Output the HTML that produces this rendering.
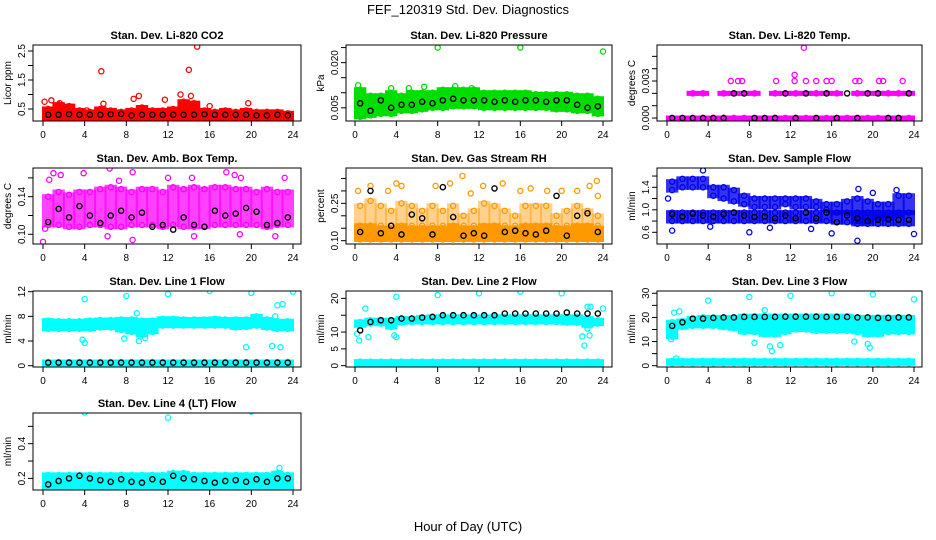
<!DOCTYPE html>
<html><head><meta charset="utf-8"><style>
body{margin:0;background:#fff;}
svg{display:block;font-family:"Liberation Sans",sans-serif;}
</style></head><body>
<svg id="c" width="936" height="540" xmlns="http://www.w3.org/2000/svg">
<text x="468" y="14" font-size="13" text-anchor="middle">FEF_120319  Std. Dev. Diagnostics</text>
<text x="468" y="531" font-size="13" text-anchor="middle">Hour of Day (UTC)</text>
</svg>
<script>
// ---- data ----
const hourTicks = [0,4,8,12,16,20,24];
const titles = ["Stan. Dev. Li-820 CO2","Stan. Dev. Li-820 Pressure","Stan. Dev. Li-820 Temp.","Stan. Dev. Amb. Box Temp.","Stan. Dev. Gas Stream RH","Stan. Dev. Sample Flow","Stan. Dev. Line 1 Flow","Stan. Dev. Line 2 Flow","Stan. Dev. Line 3 Flow","Stan. Dev. Line 4 (LT) Flow"];
const yTitles = ["Licor ppm","kPa","degrees C","degrees C","percent","ml/min","ml/min","ml/min","ml/min","ml/min"];
const colors = ["#ff0000","#00dd00","#ff00ff","#ff00ff","#ff9900","#0000ee","#00ffff","#00ffff","#00ffff","#00ffff"];
const yTicks = [[0.5,1,1.5,2,2.5],[0.005,0.010,0.015,0.020,0.025],[0,0.001,0.002,0.003,0.004,0.005],[0.10,0.12,0.14,0.16],[0.10,0.15,0.20,0.25,0.30,0.35],[0.6,0.8,1.0,1.2,1.4,1.6],[0,4,8,12],[0,5,10,15,20],[0,5,10,15,20,25,30],[0.2,0.3,0.4,0.5]];
const yTickLabels = [["0.5","","1.5","","2.5"],["0.005","","","0.020",""],["0.000","","","0.003","",""],["0.10","","0.14",""],["0.10","","","0.25","",""],["0.6","","1.0","","1.4",""],["0","4","8","12"],["0","5","10","","20"],["0","","10","","20","","30"],["0.2","","0.4",""]];
const yRanges = [[0.086,2.707],[0.00062,0.02586],[-0.00024,0.00592],[0.0897,0.1705],[0.0867,0.392],[0.392,1.743],[-0.21,12.11],[-0.39,22.2],[-0.54,30.95],[0.133,0.577]];

const co2Lo = Array(24).fill(0.15);
const co2Hi = [0.5,0.65,0.6,0.45,0.4,0.5,0.45,0.4,0.45,0.55,0.45,0.45,0.5,0.75,0.7,0.45,0.4,0.45,0.4,0.45,0.4,0.4,0.4,0.35];
const co2Black = [0.3,0.3,0.32,0.3,0.3,0.3,0.32,0.33,0.28,0.3,0.3,0.3,0.3,0.3,0.3,0.32,0.3,0.3,0.3,0.3,0.28,0.28,0.3,0.28];
const co2Out = [[0.15,0.75],[0.8,0.8],[1.6,0.7],[2.3,0.55],[5.6,1.8],[5.8,0.68],[8.7,0.85],[9.2,0.95],[11.7,0.82],[13.2,1.0],[14,1.85],[14.2,0.95],[14.8,2.65],[16,0.6],[19.7,0.7],[4.2,0.45]];

const prLo = [0.002,0.0025,0.003,0.003,0.004,0.004,0.0045,0.005,0.005,0.0055,0.0055,0.0055,0.005,0.005,0.005,0.005,0.005,0.005,0.005,0.0045,0.0045,0.004,0.004,0.003];
const prHi = [0.011,0.009,0.009,0.010,0.009,0.010,0.010,0.010,0.011,0.011,0.011,0.011,0.010,0.010,0.010,0.010,0.010,0.0095,0.0095,0.0095,0.0095,0.009,0.009,0.008];
const prBlack = [0.0065,0.004,0.0075,0.005,0.006,0.006,0.007,0.0065,0.0075,0.008,0.0075,0.0075,0.0075,0.007,0.0075,0.007,0.0075,0.0075,0.007,0.0075,0.0075,0.006,0.005,0.0055];
const prOut = [[8,0.025],[16,0.025],[24,0.0237],[0.3,0.0125],[3.5,0.0115],[9.7,0.0122],[5.2,0.0115],[6.7,0.012],[11.3,0.0115]];

const tpLo = Array(24).fill(0);
const tpHi = Array(24).fill(0);
const tpLo2 = [null,null,0.002,0.002,null,0.002,0.002,0.002,0.002,null,0.002,0.002,0.002,0.002,0.002,0.002,0.002,null,0.002,0.002,0.002,0.002,0.002,0.002];
const tpBlack = [0,0,0,0,0,0,0.002,0.002,0,0,0,0.002,0,0.002,0,0.002,0,0.002,0,0.002,0.002,0,0,0.002];
const tpOut = [[6.2,0.003],[6.9,0.003],[7.3,0.003],[10.6,0.003],[12.4,0.0035],[12.4,0.003],[13.3,0.0057],[13.5,0.003],[14.5,0.003],[15.5,0.003],[16,0.003],[18.3,0.003],[18.7,0.003],[20.6,0.003],[21,0.003],[22.9,0.003]];

const atLo = [0.11,0.11,0.108,0.108,0.11,0.11,0.108,0.108,0.11,0.11,0.11,0.108,0.11,0.108,0.108,0.108,0.11,0.11,0.11,0.11,0.11,0.108,0.11,0.11];
const atHi = [0.14,0.145,0.142,0.145,0.145,0.148,0.15,0.148,0.145,0.148,0.148,0.145,0.15,0.148,0.15,0.148,0.15,0.15,0.148,0.148,0.145,0.148,0.145,0.145];
const atBlack = [0.113,0.127,0.118,0.13,0.12,0.112,0.12,0.125,0.118,0.123,0.108,0.11,0.105,0.118,0.11,0.108,0.125,0.12,0.122,0.128,0.124,0.11,0.112,0.118];
const atOut = [[0,0.092],[0.2,0.106],[0.6,0.158],[1,0.165],[1.7,0.163],[3.9,0.165],[6.4,0.17],[7.3,0.157],[8.6,0.094],[8.6,0.166],[12,0.16],[14.3,0.16],[17.6,0.166],[18.4,0.163],[19,0.16],[23.2,0.16],[6.2,0.098],[22.3,0.098],[14.5,0.098],[18.9,0.1]];

const rhLo = Array(24).fill(0.105);
const rhHi = [0.16,0.16,0.15,0.15,0.16,0.15,0.15,0.15,0.15,0.16,0.15,0.15,0.16,0.16,0.15,0.15,0.16,0.16,0.16,0.15,0.15,0.16,0.16,0.15];
const rhLo2 = Array(24).fill(0.16);
const rhHi2 = [0.24,0.26,0.24,0.22,0.25,0.24,0.22,0.24,0.22,0.24,0.2,0.22,0.25,0.24,0.22,0.2,0.24,0.24,0.24,0.2,0.22,0.24,0.22,0.2];
const rhBlack = [0.135,0.3,0.13,0.16,0.125,0.205,0.19,0.125,0.315,0.195,0.12,0.13,0.12,0.31,0.135,0.14,0.13,0.125,0.14,0.28,0.12,0.2,0.21,0.135];
const rhOut = [[0.3,0.3],[1.5,0.32],[4,0.33],[4.5,0.32],[7.8,0.32],[9.2,0.33],[10.4,0.36],[11.2,0.29],[12.4,0.32],[14.3,0.33],[16,0.3],[17,0.31],[18.6,0.3],[20,0.3],[21.5,0.3],[22.7,0.32],[23.4,0.34],[23.5,0.28],[3.2,0.3]];

const sfLo = [0.8,0.8,0.8,0.8,0.8,0.8,0.8,0.8,0.8,0.8,0.8,0.8,0.8,0.8,0.8,0.8,0.78,0.78,0.75,0.75,0.75,0.75,0.75,0.75];
const sfHi = Array(24).fill(0.95);
const sfLo2 = [1.35,1.4,1.4,1.4,1.25,1.2,1.15,1.1,1.05,1.05,1.05,1.1,1.05,1.05,1.05,1.0,0.95,0.95,0.8,0.8,0.85,0.85,0.9,0.95];
const sfHi2 = [1.5,1.55,1.55,1.55,1.4,1.4,1.35,1.25,1.2,1.2,1.2,1.2,1.2,1.2,1.15,1.1,1.1,1.15,1.2,1.15,1.1,1.1,1.25,1.25];
const sfBlack = [0.92,0.88,0.93,0.9,0.88,0.92,0.95,0.9,0.87,0.88,0.85,0.9,0.85,0.95,0.85,0.95,0.78,0.9,0.85,0.8,0.82,0.83,0.82,0.82];
const sfOut = [[0.1,1.2],[0.5,0.63],[3.5,1.7],[4.2,0.7],[8,0.6],[10,0.68],[14,0.66],[16,0.58],[18.5,0.45],[18.6,1.37],[20,1.3],[24,0.57],[22.3,1.35]];

const l1Lo = [6,6,6,6,6,6.2,6.2,5.8,5.5,5,5.5,6.5,6.5,6.5,6.5,6.5,6.5,6.5,6.2,6.3,6.5,6.2,6,6];
const l1Hi = [7.3,7.2,7.2,7.2,7.3,7.4,7.4,7.5,7.5,7.3,7.3,7.6,7.6,7.5,7.5,7.5,7.6,7.5,7.5,7.5,8,7.5,7.2,7.2];
const l1Lo2 = Array(24).fill(0.3);
const l1Hi2 = Array(24).fill(0.6);
const l1Black = Array(24).fill(0.5);
const l1Out = [[4,10.8],[8,11.3],[12,11.6],[16,12.1],[20,11.8],[24,12],[3.8,4.2],[4,3.7],[7.8,4.4],[9.2,4],[9.8,4.5],[19.5,3],[22.8,3],[22.5,9.8],[23,10],[22.3,8],[9,8.5],[22,3.2]];

const l2Lo = [12,12.5,12.5,11.5,12.8,13,13,13,13,13,13,13,13,13,13,13,13,13,13,13,12.8,12.8,12,12.5];
const l2Hi = [13,13.5,13.5,13.5,14,14,14.3,14.5,14.5,14.5,14.5,14.5,14.5,14.5,14.5,14.5,14.5,14.5,14.5,14.5,14.5,14.5,14,13.5];
const l2Lo2 = Array(24).fill(0.3);
const l2Hi2 = Array(24).fill(1.2);
const l2Black = [10.5,13,13.5,13.5,14,14,14.3,14.5,15,15,15,15,15,15,15.5,15.5,15.5,15.5,15.5,15.5,15.8,15.5,15.5,15.5];
const l2Out = [[0.2,9.5],[0.4,7.5],[1,17],[1.3,8.5],[4,20.5],[4,8.5],[3.8,9],[8,21],[12,21.5],[16,22],[20,21.5],[22.5,17.5],[22.8,17.5],[24,17],[22,8.7],[22.2,6],[22.5,11],[22.7,9]];

const l3Lo = [12,16,16.5,16.5,16.5,16,15.5,14,14,13,13,14,15,15,14.5,14.5,14.5,14.5,14,13,13,14,14,14];
const l3Hi = [18,18.5,19.5,20,20,20,20,20.5,20.5,20.5,20.5,20.5,20.5,20.5,20.5,20.5,20.5,20.5,20,20,20,20,20,20];
const l3Lo2 = Array(24).fill(1);
const l3Hi2 = Array(24).fill(2);
const l3Black = [16.5,18,19.5,19.5,19.8,20,20,20.2,20.2,20.2,20.2,20.3,20.3,20.3,20.3,20.2,20.2,20.2,20,20,19.8,19.8,20,20];
const l3Out = [[0.4,11],[0.7,22],[1.2,22.5],[4,27],[8,28.5],[12,29],[16,30],[20,29.5],[24,27.5],[9.5,23],[10,8],[10.2,6],[11,8.5],[8.5,9.5],[18.2,10],[19.5,9],[19.7,7.5],[0.9,3]];

const l4Lo = Array(24).fill(0.15);
const l4Hi = [0.22,0.22,0.22,0.22,0.22,0.22,0.22,0.22,0.22,0.22,0.22,0.22,0.23,0.23,0.22,0.22,0.22,0.22,0.22,0.22,0.22,0.22,0.23,0.22];
const l4Black = [0.165,0.185,0.2,0.215,0.2,0.19,0.18,0.195,0.18,0.175,0.195,0.18,0.215,0.2,0.195,0.185,0.175,0.185,0.19,0.18,0.195,0.18,0.2,0.2];
const l4Out = [[4,0.58],[12,0.55],[20,0.585],[22.7,0.26],[23.8,0.14]];

const panelLo = [co2Lo,prLo,tpLo,atLo,rhLo,sfLo,l1Lo,l2Lo,l3Lo,l4Lo];
const panelHi = [co2Hi,prHi,tpHi,atHi,rhHi,sfHi,l1Hi,l2Hi,l3Hi,l4Hi];
const panelLo2 = [null,null,tpLo2,null,rhLo2,sfLo2,l1Lo2,l2Lo2,l3Lo2,null];
const panelHi2 = [null,null,tpLo2,null,rhHi2,sfHi2,l1Hi2,l2Hi2,l3Hi2,null];
const panelBlack = [co2Black,prBlack,tpBlack,atBlack,rhBlack,sfBlack,l1Black,l2Black,l3Black,l4Black];
const panelOut = [co2Out,prOut,tpOut,atOut,rhOut,sfOut,l1Out,l2Out,l3Out,l4Out];

// ---- style (not data) ----
const bandOpacity = [1,1,1,0.75,1,0.85,1,1,1,1];
const band2Opacity = [1,1,1,1,0.45,0.8,1,1,1,1];

// ---- layout ----
const colBox = [[33,301,43,293],[346,612,355,603],[657,922,667,914]];
const rowBox = [[45,121],[168,244],[291,367],[413,490]];
const NS = "http://www.w3.org/2000/svg";
const svg = document.getElementById('c');
function mk(tag, attrs, parent){const e=document.createElementNS(NS,tag);for(const k in attrs)e.setAttribute(k,attrs[k]);(parent||svg).appendChild(e);return e;}

for(let p=0;p<10;p++){
  const col=p%3,row=Math.floor(p/3);
  const [bl,br,x0,x24]=colBox[col];const [bt,bb]=rowBox[row];
  const [ymin,ymax]=yRanges[p];
  const xs=t=>x0+(x24-x0)*t/24;
  const ys=v=>bb-(v-ymin)/(ymax-ymin)*(bb-bt);
  const g=mk('g',{});
  
  
  const clip=mk('clipPath',{id:'cl'+p},g);mk('rect',{x:bl,y:bt,width:br-bl,height:bb-bt},clip);
  const plot=mk('g',{'clip-path':'url(#cl'+p+')'},g);
  const col_=colors[p];
  function band(lo,hi,nm,op){
    for(let i=0;i<24;i++){ if(lo[i]==null) continue;
      const y1=ys(hi[i]),y2=ys(lo[i]);
      const r=mk('rect',{x:xs(i)-1,y:y1-2.5,width:xs(i+1)-xs(i)+2,height:y2-y1+5,fill:col_,'fill-opacity':op},plot);
      
      
      [lo[i],hi[i]].forEach(v=>{const c=mk('circle',{cx:xs(i+0.5),cy:ys(v),r:2.6,fill:'none',stroke:col_,'stroke-width':1.3},plot);
        
        });
    }
  }
  band(panelLo[p],panelHi[p],'point-cloud',bandOpacity[p]);
  if(panelLo2[p]) band(panelLo2[p],panelHi2[p],'point-cloud-2',band2Opacity[p]);
  panelOut[p].forEach(([t,v])=>{const c=mk('circle',{cx:xs(t),cy:ys(v),r:2.6,fill:'none',stroke:col_,'stroke-width':1.3},plot);
    
    });
  panelBlack[p].forEach((v,i)=>{const c=mk('circle',{cx:xs(i+0.5),cy:ys(v),r:2.6,fill:'none',stroke:'#000','stroke-width':1.4},plot);
    
    });
  mk('rect',{x:bl,y:bt,width:br-bl,height:bb-bt,fill:'none',stroke:'#000','stroke-width':1},g);
  const tt=mk('text',{x:(bl+br)/2,y:bt-6,'font-size':11,'font-weight':'bold','text-anchor':'middle'},g);tt.textContent=titles[p];
  
  
  hourTicks.forEach(h=>{const x=xs(h);mk('line',{x1:x,y1:bb,x2:x,y2:bb+5,stroke:'#000'},g);
    const t=mk('text',{x:x,y:bb+17,'font-size':10,'text-anchor':'middle'},g);t.textContent=h;
    
    });
  yTicks[p].forEach((v,i)=>{const y=ys(v);mk('line',{x1:bl,y1:y,x2:bl-5,y2:y,stroke:'#000'},g);
    const lab=yTickLabels[p][i]; if(lab){const t=mk('text',{x:bl-8,y:y,'font-size':10,'text-anchor':'middle',transform:`rotate(-90 ${bl-8} ${y})`},g);t.textContent=lab;
    
    }});
  const yt=mk('text',{x:bl-22,y:(bt+bb)/2,'font-size':10,'text-anchor':'middle',transform:`rotate(-90 ${bl-22} ${(bt+bb)/2})`},g);yt.textContent=yTitles[p];
  
  
}
</script>
</body></html>
